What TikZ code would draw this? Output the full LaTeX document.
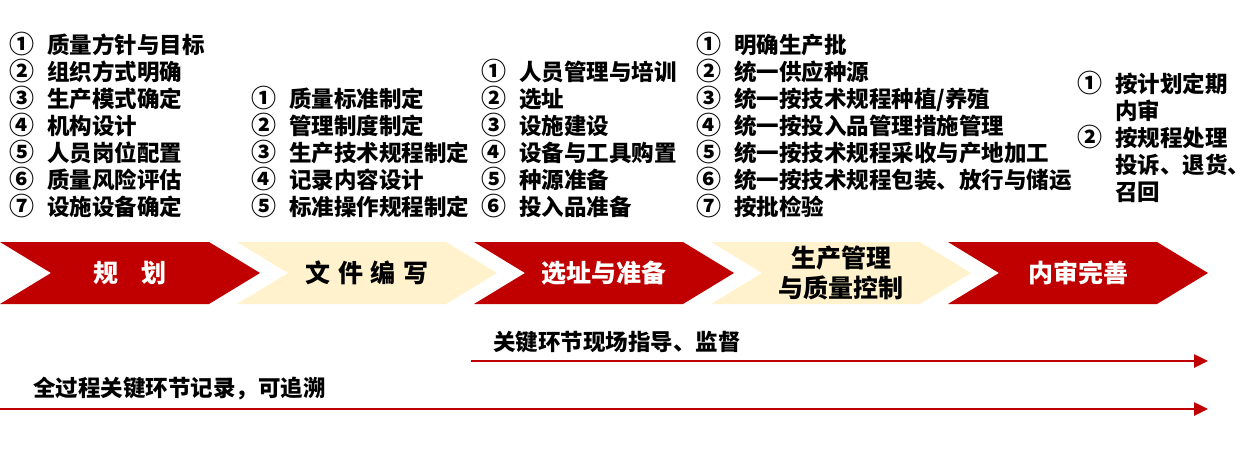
\documentclass[tikz,border=0pt]{standalone}
\usepackage{fontspec}
\setmainfont{Noto Sans CJK SC}
\usetikzlibrary{arrows.meta}
\definecolor{chevred}{HTML}{C00000}
\definecolor{chevcream}{HTML}{FFF2CC}
\newcommand{\itemnum}[1]{\makebox[38pt][l]{\fontsize{25}{27}\selectfont#1}}
\begin{document}
\begin{tikzpicture}[x=1pt,y=-1pt,
    item/.style={anchor=base west,inner sep=0pt,font=\fontsize{22.5}{27}\selectfont\bfseries},
    stage/.style={align=center,inner sep=0pt,font=\fontsize{25}{30}\selectfont\bfseries},
    flow/.style={chevred,line width=2.5pt,-{Triangle[length=14pt,width=13pt]}}]
\useasboundingbox (0,0) rectangle (1258,453);

\foreach \n/\t [count=\i] in {①/质量方针与目标,②/组织方式明确,③/生产模式确定,④/机构设计,⑤/人员岗位配置,⑥/质量风险评估,⑦/设施设备确定}
    \node[item] (plan\i) at (9,{53.5+27*(\i-1)}) {\itemnum{\n}\t};
\foreach \n/\t [count=\i] in {①/质量标准制定,②/管理制度制定,③/生产技术规程制定,④/记录内容设计,⑤/标准操作规程制定}
    \node[item] (docs\i) at (251,{107.5+27*(\i-1)}) {\itemnum{\n}\t};
\foreach \n/\t [count=\i] in {①/人员管理与培训,②/选址,③/设施建设,④/设备与工具购置,⑤/种源准备,⑥/投入品准备}
    \node[item] (site\i) at (481,{80.5+27*(\i-1)}) {\itemnum{\n}\t};
\foreach \n/\t [count=\i] in {①/明确生产批,②/统一供应种源,③/{统一按技术规程种植/养殖},④/统一按投入品管理措施管理,⑤/统一按技术规程采收与产地加工,⑥/统一按技术规程包装、放行与储运,⑦/按批检验}
    \node[item] (prod\i) at (696,{53.5+27*(\i-1)}) {\itemnum{\n}\t};
\foreach \n/\t [count=\i] in {①/按计划定期,/内审,②/按规程处理,/投诉、退货、,/召回}
    \node[item] (audit\i) at (1077,{92.5+27*(\i-1)}) {\itemnum{\n}\t};

\foreach \k/\fc/\tc/\lbl in {0/chevred/white/{规\hspace{0.9em}划},1/chevcream/black/{文\hspace{0.3em}件\hspace{0.3em}编\hspace{0.3em}写},2/chevred/white/选址与准备,3/chevcream/black/{生产管理\\与质量控制},4/chevred/white/内审完善}{
    \fill[\fc] ({237*\k},242) -- ++(209,0) -- ++(51,31) -- ++(-51,31) -- ++(-209,0) -- ++(51,-31) -- cycle;
    \node[stage,text=\tc] (stage\k) at ({237*\k+130},273) {\lbl};
}

\coordinate (guide start) at (471,361);
\coordinate (guide end) at (1208,361);
\coordinate (record start) at (0,409);
\coordinate (record end) at (1208,409);
\draw[flow] (guide start) -- (guide end);
\draw[flow] (record start) -- (record end);
\node[item] (guide) at (493,350.5) {关键环节现场指导、监督};
\node[item] (record) at (33,396) {全过程关键环节记录，可追溯};
\end{tikzpicture}
\end{document}
